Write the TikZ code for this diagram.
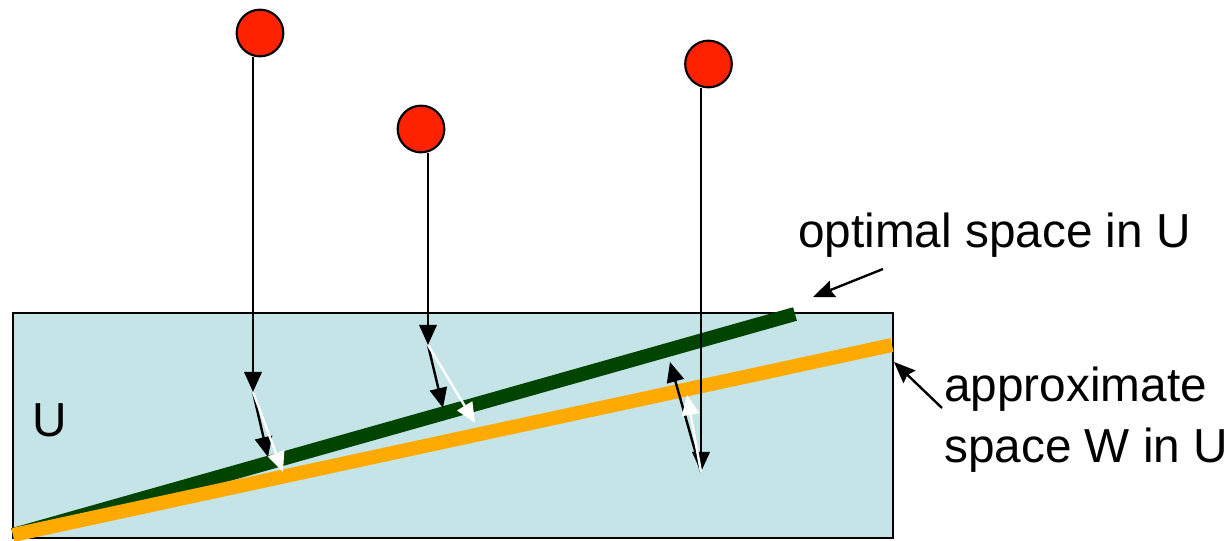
\documentclass[tikz,border=0pt]{standalone}
\usepackage{fontspec}
\setmainfont{Liberation Sans}
\usetikzlibrary{arrows.meta}
\definecolor{boxblue}{RGB}{196,228,231}
\definecolor{optgreen}{RGB}{0,68,0}
\definecolor{apporange}{RGB}{255,170,0}
\definecolor{ptred}{RGB}{255,34,0}
\begin{document}
\begin{tikzpicture}[x=0.75pt,y=-0.75pt,
  point/.style={circle,draw=black,line width=1.6pt,fill=ptred,minimum size=35pt,inner sep=0pt},
  proj/.style={draw=black,line width=1.8pt,-{Triangle[length=15pt,width=13pt]}},
  wproj/.style={draw=white,line width=1.8pt,-{Triangle[length=15pt,width=13pt]}},
  pointer/.style={draw=black,line width=1.8pt,-{Stealth[length=16pt,width=13pt,inset=2pt]}},
  spacebox/.style={draw=black,line width=1.6pt,fill=boxblue},
  subspace/.style={line width=10.5pt},
  lbl/.style={inner sep=0pt,anchor=base west,font=\fontsize{35.8}{42}\selectfont}
]
\useasboundingbox (0,0) rectangle (1232,541);
% subspace U
\draw[spacebox] (13,313) rectangle (893,538);
\node[lbl] (ulabel) at (32,437) {U};
% lines
\coordinate (g0) at (13,535);
\coordinate (g1) at (795,314);
\coordinate (o0) at (13,535);
\coordinate (o1) at (892,345);
\draw[subspace,optgreen] (g0) -- (g1);
\draw[subspace,apporange] (o0) -- (o1);
% data points
\node[point] (c1) at (260,33) {};
\node[point] (c2) at (421,129) {};
\node[point] (c3) at (708.5,64) {};
\coordinate (s1) at (253,57);
\coordinate (s2) at (428,153);
\coordinate (s3) at (701,88);
\coordinate (t1) at (253,392);
\coordinate (t2) at (428,345);
\coordinate (t3) at (701,472);
\coordinate (b1) at (268,457);
\coordinate (b2) at (443,408);
\coordinate (b3) at (670,362);
\coordinate (w1) at (283,472);
\coordinate (w2) at (475,423);
\coordinate (w3) at (687,395);
\draw[proj] (s1) -- (t1);
\draw[proj] (s2) -- (t2);
\draw[proj] (s3) -- (t3);
\draw[proj] (t1) -- (b1);
\draw[proj] (t2) -- (b2);
\draw[proj] (t3) -- (b3);
\draw[wproj] (t1) -- (w1);
\draw[wproj] (t2) -- (w2);
\draw[wproj] (t3) -- (w3);
% labels
\node[lbl] (optlbl) at (798,248) {optimal space in U};
\node[lbl] (applbl1) at (944,402) {approximate};
\node[lbl] (applbl2) at (944,463) {space W in U};
\coordinate (p1s) at (883,269);
\coordinate (p1e) at (813,297);
\coordinate (p2s) at (942,408);
\coordinate (p2e) at (894,362);
\draw[pointer] (p1s) -- (p1e);
\draw[pointer] (p2s) -- (p2e);
\end{tikzpicture}
\end{document}
